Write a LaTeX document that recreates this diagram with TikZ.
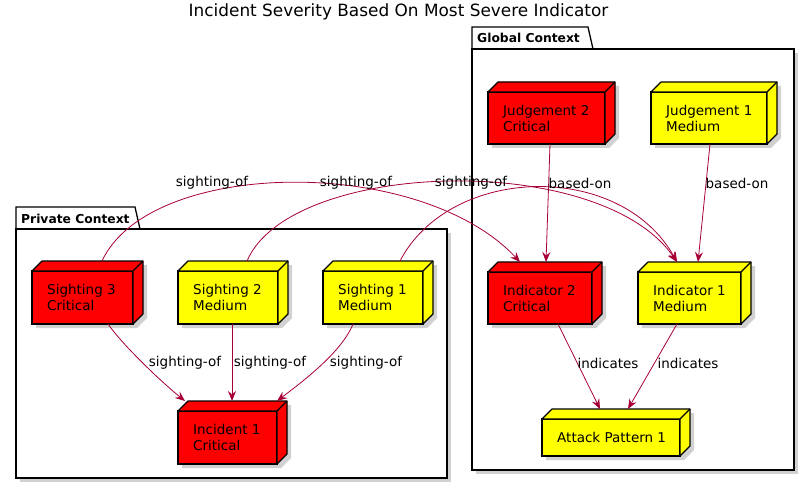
\documentclass[tikz,border=0pt]{standalone}
\usepackage{fontspec}
\setmainfont{DejaVu Sans}
\usetikzlibrary{arrows.meta,calc}
\definecolor{edgec}{HTML}{A80036}
\definecolor{crit}{HTML}{FF0000}
\definecolor{med}{HTML}{FFFF00}
\definecolor{shadowc}{HTML}{9A9A9A}
\tikzset{
  cubefront/.style={draw=black, line width=1.2pt, rectangle, anchor=north west, outer sep=0pt, inner sep=0pt},
  cubetext/.style={anchor=west, inner sep=0pt, align=left, font=\fontsize{13.5}{16}\selectfont},
  cubeface/.style={draw=black, line width=1.2pt, line join=round},
  shadowfill/.style={fill=shadowc, opacity=0.45},
  pkgline/.style={draw=black, line width=1.3pt, line join=miter},
  pkglab/.style={font=\bfseries\fontsize{12.3}{14}\selectfont, anchor=base west, inner sep=0pt},
  rel/.style={draw=edgec, line width=0.8pt, -{Stealth[length=10pt,width=8pt,inset=3.5pt]}},
  elab/.style={font=\fontsize{13.5}{16}\selectfont, text=black, inner sep=0pt},
}
\newcommand\cubenode[7]{%
  \fill[shadowfill] ({#2+4},{#3+4}) -- ++(10,-10) -- ++(#4,0) -- ++(0,#5) -- ++(-10,10) -- ++(-#4,0) -- cycle;
  \node[cubefront, fill=#6, minimum width=#4pt, minimum height=#5pt] (#1) at (#2,#3) {};
  \draw[cubeface, fill=#6] (#1.north west) -- ++(10,-10) -- ++(#4,0) -- ++(0,#5) -- (#1.south east) -- (#1.north east) -- cycle;
  \draw[cubeface] (#1.north east) -- ++(10,-10);
  \node[cubetext] (#1-text) at ([xshift=15pt]#1.west) {#7};
}
\begin{document}
\begin{tikzpicture}[x=1pt,y=-1pt]
\useasboundingbox (0,0) rectangle (810,486);
\fill[white] (0,0) rectangle (810,486);

% title
\node[font=\fontsize{16.9}{20}\selectfont, anchor=base, inner sep=0pt] (title) at (398.5,17) {Incident Severity Based On Most Severe Indicator};

% Global Context package
\fill[shadowfill] (476,53) rectangle (798,474);
\draw[pkgline, fill=white] (472,49) -- (472,27) -- (588,27) -- (593,49);
\draw[pkgline, fill=white] (472,49) rectangle (794,470);
\node[pkglab] (globallab) at (477,43) {Global Context};

% Private Context package
\fill[shadowfill] (20,233) rectangle (451,482);
\draw[pkgline, fill=white] (16,229) -- (16,207) -- (135,207) -- (140,229);
\draw[pkgline, fill=white] (16,229) rectangle (447,478);
\node[pkglab] (privatelab) at (21,223) {Private Context};

% nodes
\cubenode{s3}{32}{271}{101}{53}{crit}{Sighting 3\\Critical}
\cubenode{s2}{178}{271}{100}{53}{med}{Sighting 2\\Medium}
\cubenode{s1}{323}{271}{100}{53}{med}{Sighting 1\\Medium}
\cubenode{inc}{178}{411}{99}{53}{crit}{Incident 1\\Critical}
\cubenode{j2}{488}{92}{117}{52}{crit}{Judgement 2\\Critical}
\cubenode{j1}{651}{92}{116}{52}{med}{Judgement 1\\Medium}
\cubenode{i2}{488}{272}{104}{52}{crit}{Indicator 2\\Critical}
\cubenode{i1}{638}{272}{103}{52}{med}{Indicator 1\\Medium}
\cubenode{ap}{542}{419}{138}{37}{med}{Attack Pattern 1}

% sighting-of to incident
\draw[rel] ($(s3.south west)+(76,0)$) .. controls (125,348) and (165,385) .. ($(inc.north west)+(7,-10)$)
  node[elab] (l1) at (185,363) {sighting-of};
\draw[rel] ($(s2.south west)+(54,0)$) -- ($(inc.north west)+(54,-10)$)
  node[elab] (l2) at (270,363) {sighting-of};
\draw[rel] ($(s1.south west)+(30,0)$) .. controls (342,352) and (302,382) .. ($(inc.north west)+(99,-10)$)
  node[elab] (l3) at (366,363) {sighting-of};

% sighting-of to indicators
\draw[rel] ($(s3.north west)+(70,-10)$) .. controls (150,158) and (420,155) .. ($(i2.north west)+(32,-10)$)
  node[elab] (l4) at (212,183) {sighting-of};
\draw[rel] ($(s2.north west)+(69,-10)$) .. controls (290,160) and (600,150) .. ($(i1.north west)+(39,-10)$)
  node[elab] (l5) at (356,183) {sighting-of};
\draw[rel] ($(s1.north west)+(77,-10)$) .. controls (450,165) and (620,160) .. ($(i1.north west)+(39,-10)$)
  node[elab] (l6) at (471,183) {sighting-of};

% based-on
\draw[rel] ($(j2.south west)+(62,0)$) -- ($(i2.north west)+(58,-10)$)
  node[elab] (l7) at (580,183) {based-on};
\draw[rel] ($(j1.south west)+(59,0)$) -- ($(i1.north west)+(60,-10)$)
  node[elab] (l8) at (737,183) {based-on};

% indicates
\draw[rel] ($(i2.south west)+(70,0)$) -- ($(ap.north west)+(58,-10)$)
  node[elab] (l9) at (608,363) {indicates};
\draw[rel] ($(i1.south west)+(39,0)$) -- ($(ap.north west)+(86,-10)$)
  node[elab] (l10) at (688,363) {indicates};
\end{tikzpicture}
\end{document}
